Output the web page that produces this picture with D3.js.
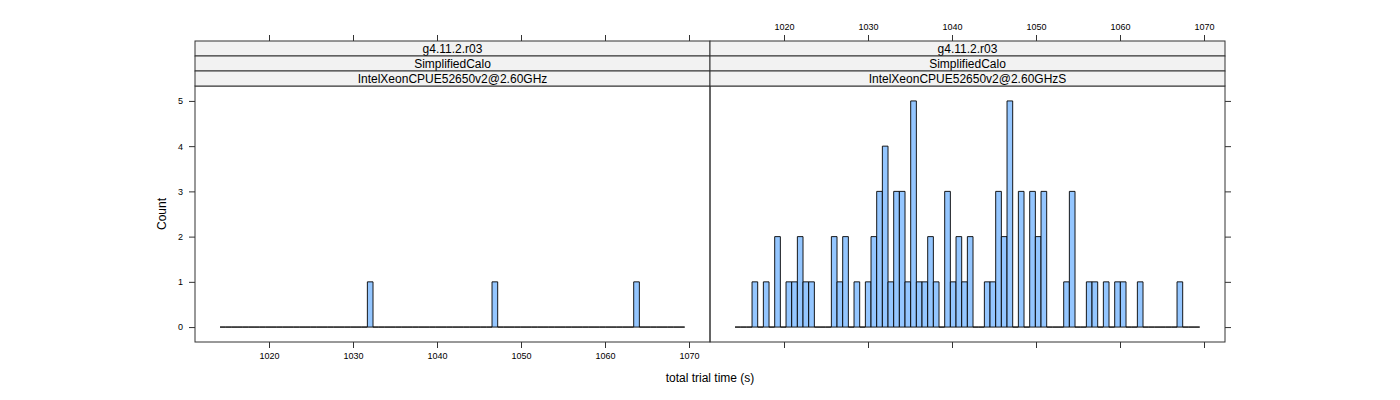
<!DOCTYPE html>
<html>
<head>
<meta charset="utf-8">
<script src="https://cdn.jsdelivr.net/npm/d3@7"></script>
<style>
  html, body { margin: 0; padding: 0; background: #fff; }
  svg { display: block; font-family: "Liberation Sans", Arial, Helvetica, sans-serif; }
</style>
</head>
<body>
<svg id="chart" width="1400" height="400"></svg>
<script>
// ---------- data ----------
const stripVersion = ["g4.11.2.r03", "g4.11.2.r03"];
const stripTest = ["SimplifiedCalo", "SimplifiedCalo"];
const stripHost = ["IntelXeonCPUE52650v2@2.60GHz", "IntelXeonCPUE52650v2@2.60GHzS"];

const breakStart = 1014.17;   // first histogram break (s)
const breakWidth = 0.6746;    // bin width (s)
const nBins = 82;

const leftBins   = [26, 48, 73];
const leftCounts = [1, 1, 1];

const rightBins   = [3, 5, 7, 9, 10, 11, 12, 13, 17, 18, 19, 21, 23, 24, 25, 26, 27, 28, 29, 30,
                     31, 32, 33, 34, 35, 37, 38, 39, 40, 41, 44, 45, 46, 47, 48, 50, 52, 53, 54,
                     58, 59, 62, 63, 65, 67, 68, 71, 78];
const rightCounts = [1, 1, 2, 1, 1, 2, 1, 1, 2, 1, 2, 1, 1, 2, 3, 4, 1, 3, 3, 1,
                     5, 1, 1, 2, 1, 3, 1, 2, 1, 2, 1, 1, 3, 2, 5, 3, 3, 2, 3,
                     1, 3, 1, 1, 1, 1, 1, 1, 1];

const xTicks = [1020, 1030, 1040, 1050, 1060, 1070];
const yTicks = [0, 1, 2, 3, 4, 5];
const xDomain = [1011.19, 1072.5];
const yDomain = [-0.33, 5.33];
const xLabel = "total trial time (s)";
const yLabel = "Count";

// ---------- layout ----------
const svg = d3.select("#chart");
const panelW = 515;
const panelX = [195, 710];
const panelTop = 86, panelBottom = 342;
const stripTop = 41, stripH = 15;

const x = d3.scaleLinear().domain(xDomain).range([0, panelW]);
const y = d3.scaleLinear().domain(yDomain).range([panelBottom, panelTop]);

function fullCounts(bins, counts) {
  const arr = new Array(nBins).fill(0);
  bins.forEach((b, i) => { arr[b] = counts[i]; });
  return arr.map((c, i) => ({
    x0: breakStart + i * breakWidth,
    x1: breakStart + (i + 1) * breakWidth,
    count: c
  }));
}
const panelData = [fullCounts(leftBins, leftCounts), fullCounts(rightBins, rightCounts)];

const axisCol = "#333";
const tickLen = 6;

panelData.forEach((data, p) => {
  const g = svg.append("g").attr("transform", `translate(${panelX[p]},0)`);

  // histogram bars (paths so that zero-height bins still draw the baseline)
  g.append("g").selectAll("path").data(data).join("path")
    .attr("d", d => {
      const a = x(d.x0), b = x(d.x1), t = y(d.count), z = y(0);
      return `M${a},${z}H${b}V${t}H${a}Z`;
    })
    .attr("fill", "#94c6ff")
    .attr("stroke", "#000")
    .attr("stroke-width", 0.9);

  // panel border
  g.append("rect")
    .attr("x", 0).attr("y", panelTop)
    .attr("width", panelW).attr("height", panelBottom - panelTop)
    .attr("fill", "none").attr("stroke", axisCol).attr("stroke-width", 1);

  // strips
  const strips = [stripVersion[p], stripTest[p], stripHost[p]];
  strips.forEach((s, i) => {
    g.append("rect")
      .attr("x", 0).attr("y", stripTop + i * stripH)
      .attr("width", panelW).attr("height", stripH)
      .attr("fill", "#f2f2f2").attr("stroke", axisCol).attr("stroke-width", 1);
    g.append("text")
      .attr("x", panelW / 2).attr("y", stripTop + i * stripH + stripH / 2)
      .attr("dy", "0.36em")
      .attr("text-anchor", "middle")
      .attr("font-size", 12)
      .attr("fill", "#000")
      .text(s);
  });

  // bottom axis (labels on left panel only)
  const bottom = d3.axisBottom(x).tickValues(xTicks).tickSizeInner(tickLen).tickSizeOuter(0)
    .tickPadding(5)
    .tickFormat(p === 0 ? d3.format("d") : () => "");
  const bg = g.append("g").attr("transform", `translate(0,${panelBottom})`).call(bottom);
  bg.select(".domain").remove();

  // top axis (labels on right panel only)
  const top = d3.axisTop(x).tickValues(xTicks).tickSizeInner(tickLen).tickSizeOuter(0)
    .tickPadding(5)
    .tickFormat(p === 1 ? d3.format("d") : () => "");
  const tg = g.append("g").attr("transform", `translate(0,${stripTop})`).call(top);
  tg.select(".domain").remove();

  [bg, tg].forEach(a => {
    a.selectAll("line").attr("stroke", axisCol);
    a.selectAll("text").attr("font-size", 9).attr("fill", "#000")
      .attr("font-family", "Liberation Sans, Arial, sans-serif");
  });

  if (p === 0) {
    const left = d3.axisLeft(y).tickValues(yTicks).tickSizeInner(tickLen).tickSizeOuter(0)
      .tickPadding(6)
      .tickFormat(d3.format("d"));
    const lg = g.append("g").call(left);
    lg.select(".domain").remove();
    lg.selectAll("line").attr("stroke", axisCol);
    lg.selectAll("text").attr("font-size", 9).attr("fill", "#000")
      .attr("font-family", "Liberation Sans, Arial, sans-serif");
  } else {
    const right = d3.axisRight(y).tickValues(yTicks).tickSizeInner(tickLen).tickSizeOuter(0)
      .tickFormat(() => "");
    const rg = g.append("g").attr("transform", `translate(${panelW},0)`).call(right);
    rg.select(".domain").remove();
    rg.selectAll("line").attr("stroke", axisCol);
  }
});

// axis titles
svg.append("text")
  .attr("x", panelX[0] + panelW)
  .attr("y", 382)
  .attr("text-anchor", "middle")
  .attr("font-size", 12)
  .text(xLabel);

svg.append("text")
  .attr("transform", `translate(166,${(panelTop + panelBottom) / 2}) rotate(-90)`)
  .attr("text-anchor", "middle")
  .attr("font-size", 12)
  .text(yLabel);
</script>
</body>
</html>
